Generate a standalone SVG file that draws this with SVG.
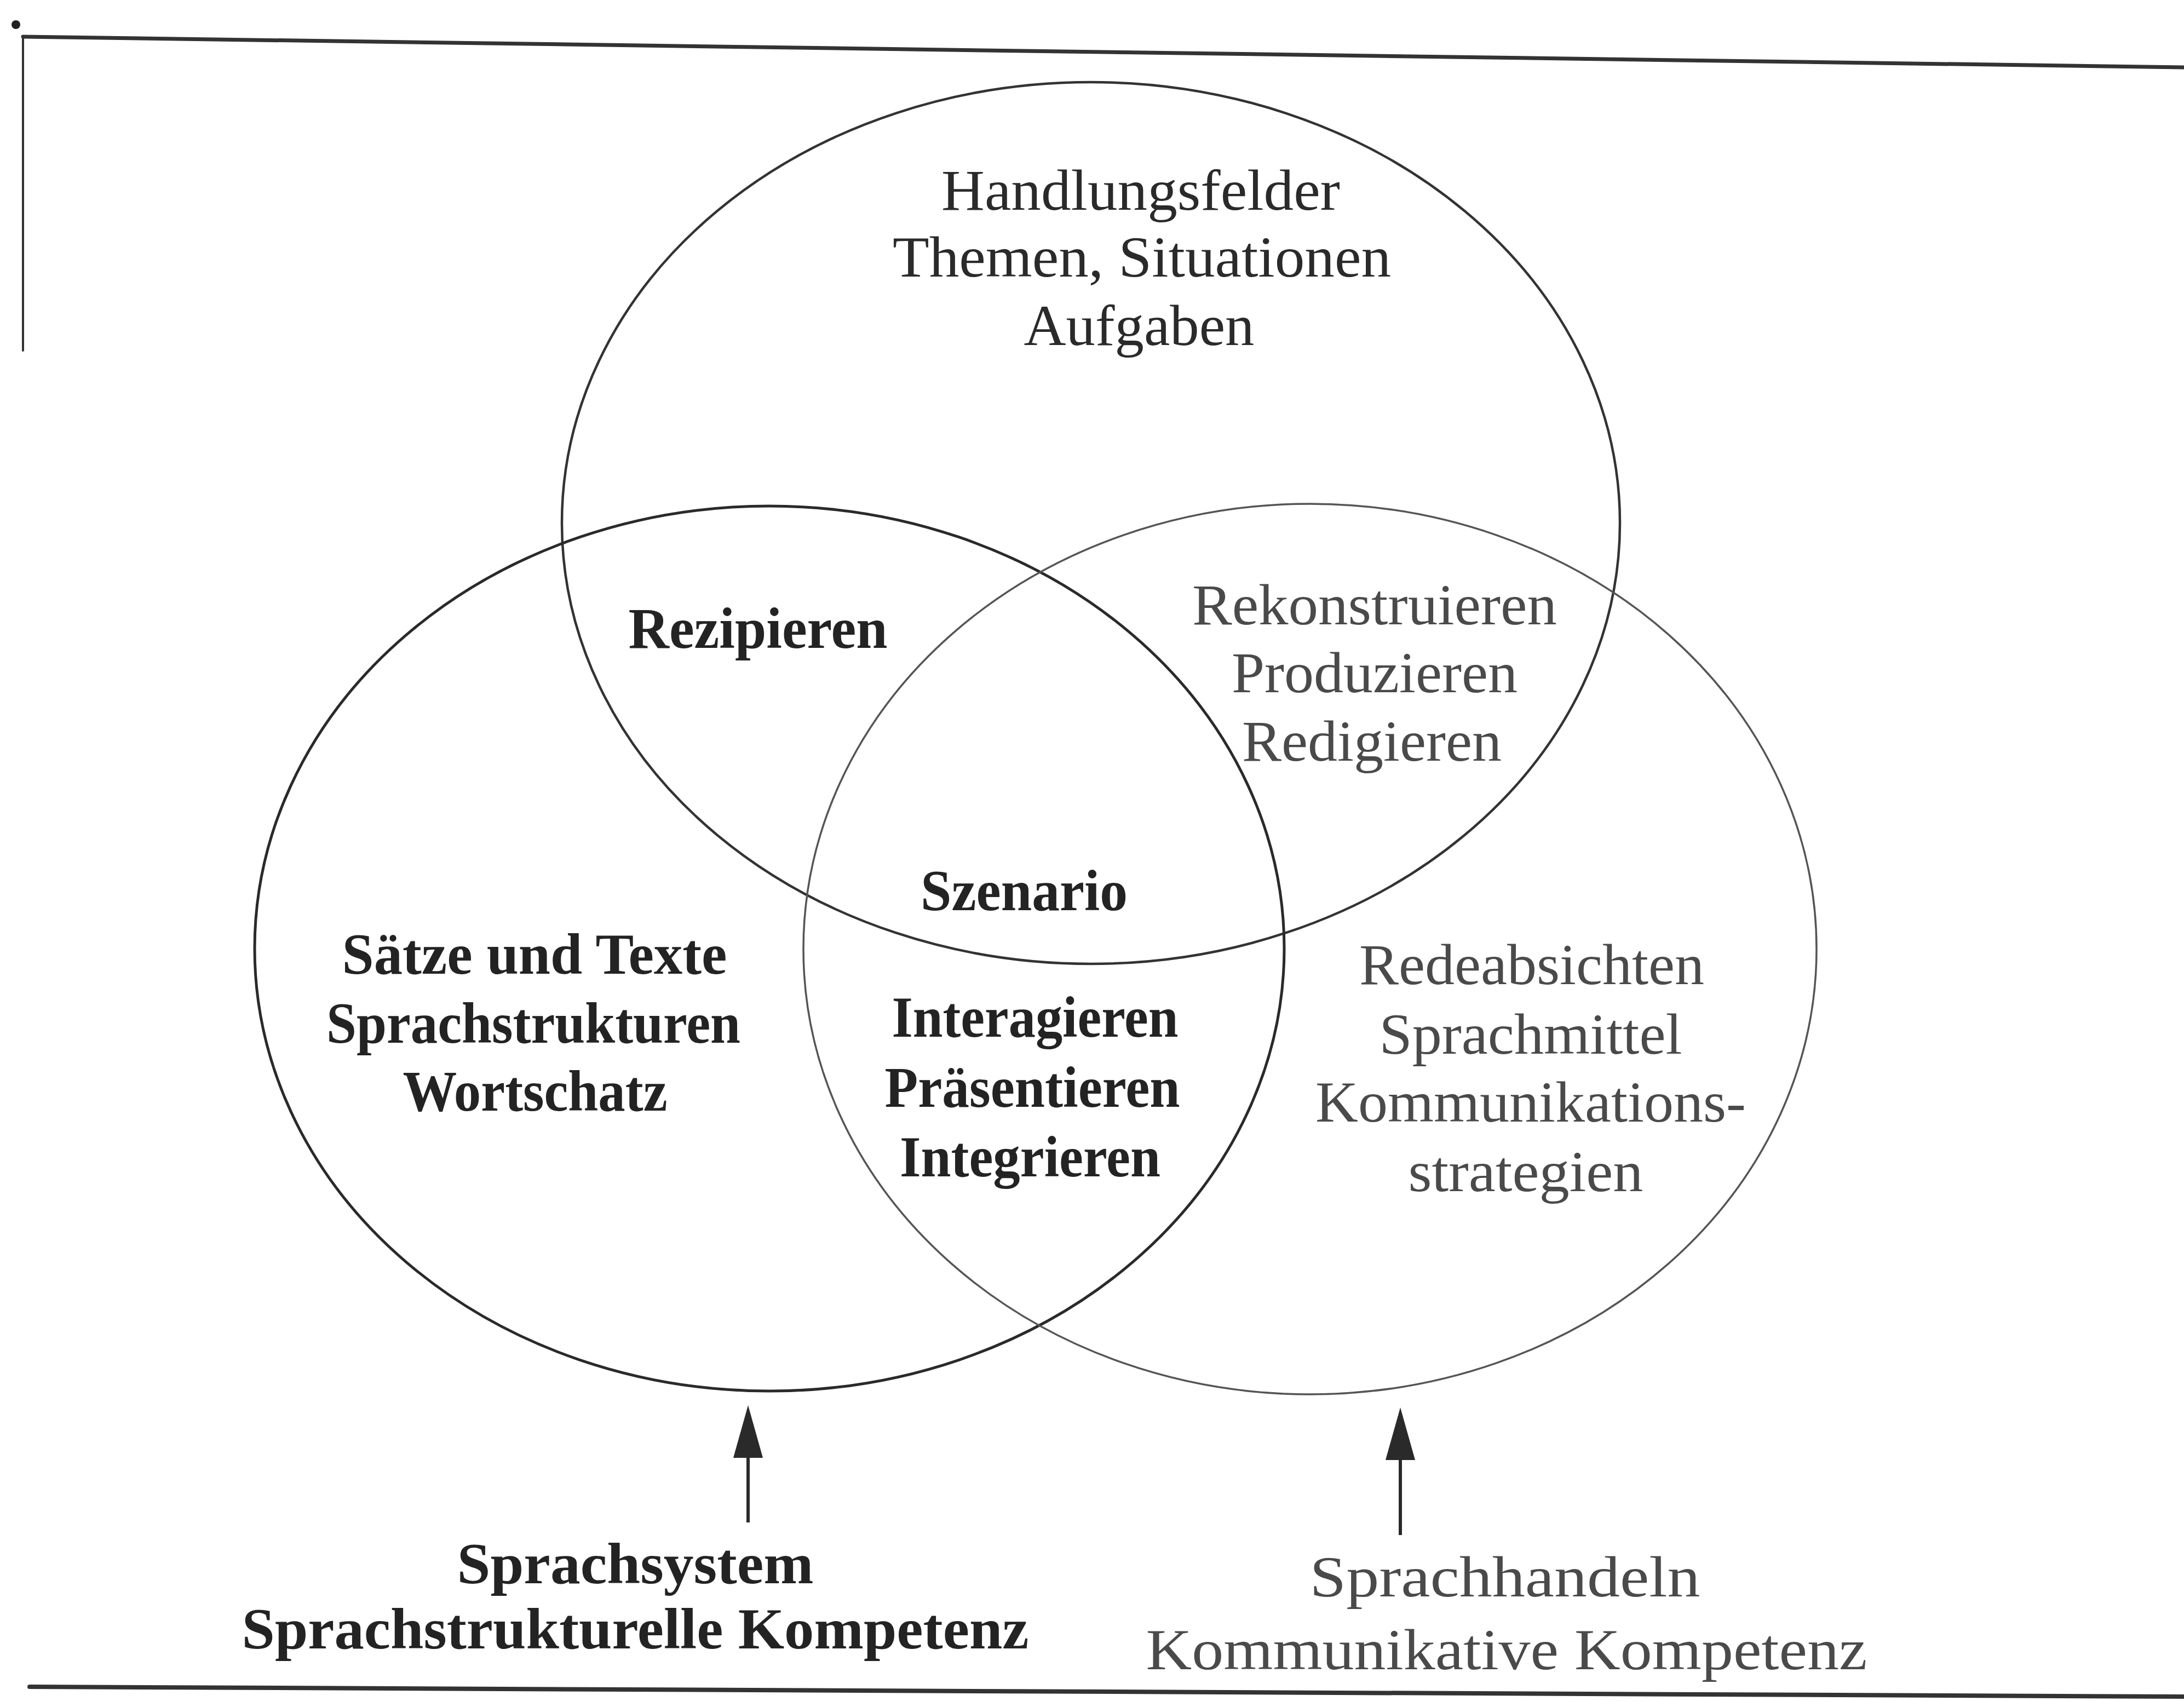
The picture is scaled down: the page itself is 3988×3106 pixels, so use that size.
<svg xmlns="http://www.w3.org/2000/svg" width="3988" height="3106" viewBox="0 0 3988 3106">
<style>
.t{font-family:"Liberation Serif","Times New Roman",serif;font-size:106px;text-anchor:middle}
.b{font-weight:bold;fill:#232323}
.r{fill:#2a2a2a}
.l{fill:#4a4a4a}
.frame{stroke:#333;fill:none;stroke-linecap:round}
.ring{fill:none}
.arrow{stroke:#2a2a2a;stroke-width:6;fill:none;marker-end:url(#ah)}
</style>
<defs>
<marker id="ah" viewBox="0 0 96 54" refX="10" refY="27" markerWidth="96" markerHeight="54" markerUnits="userSpaceOnUse" orient="auto">
<path d="M0,0 L96,27 L0,54 z" fill="#2a2a2a"/>
</marker>
</defs>
<rect width="3988" height="3106" fill="#ffffff"/>
<g id="frame">
<circle cx="29" cy="45" r="8" fill="#222"/>
<line class="frame" x1="42" y1="67" x2="3988" y2="123" stroke-width="7"/>
<line class="frame" x1="42" y1="67" x2="42" y2="640" stroke-width="4" stroke="#666"/>
<line class="frame" x1="54" y1="3080" x2="3988" y2="3098" stroke-width="8"/>
</g>
<g id="circle-top">
<ellipse class="ring" cx="1992" cy="955" rx="966" ry="805" stroke="#333" stroke-width="4.5"/>
</g>
<g id="circle-left">
<ellipse class="ring" cx="1405" cy="1732" rx="940" ry="808" stroke="#2a2a2a" stroke-width="5"/>
</g>
<g id="circle-right">
<ellipse class="ring" cx="2392" cy="1733" rx="925" ry="813" stroke="#555" stroke-width="3.5"/>
</g>
<g id="connectors">
<line class="arrow" x1="1366" y1="2780" x2="1366" y2="2652"/>
<line class="arrow" x1="2557" y1="2803" x2="2557" y2="2656"/>
</g>
<g id="label-top">
<text class="t r" x="2083" y="383" textLength="728" lengthAdjust="spacingAndGlyphs">Handlungsfelder</text>
<text class="t r" x="2085" y="505" textLength="910" lengthAdjust="spacingAndGlyphs">Themen, Situationen</text>
<text class="t r" x="2080" y="630" textLength="421" lengthAdjust="spacingAndGlyphs">Aufgaben</text>
</g>
<g id="label-rezipieren">
<text class="t b" x="1384" y="1183" textLength="473" lengthAdjust="spacingAndGlyphs">Rezipieren</text>
</g>
<g id="label-top-right">
<text class="t l" x="2510" y="1140" textLength="666" lengthAdjust="spacingAndGlyphs">Rekonstruieren</text>
<text class="t l" x="2510" y="1264" textLength="522" lengthAdjust="spacingAndGlyphs">Produzieren</text>
<text class="t l" x="2505" y="1389" textLength="474" lengthAdjust="spacingAndGlyphs">Redigieren</text>
</g>
<g id="label-szenario">
<text class="t b" x="1870" y="1662" textLength="378" lengthAdjust="spacingAndGlyphs">Szenario</text>
</g>
<g id="label-left">
<text class="t b" x="976" y="1778" textLength="703" lengthAdjust="spacingAndGlyphs">Sätze und Texte</text>
<text class="t b" x="974" y="1904" textLength="756" lengthAdjust="spacingAndGlyphs">Sprachstrukturen</text>
<text class="t b" x="977" y="2028" textLength="483" lengthAdjust="spacingAndGlyphs">Wortschatz</text>
</g>
<g id="label-bottom-center">
<text class="t b" x="1890" y="1893" textLength="523" lengthAdjust="spacingAndGlyphs">Interagieren</text>
<text class="t b" x="1885" y="2021" textLength="539" lengthAdjust="spacingAndGlyphs">Präsentieren</text>
<text class="t b" x="1881" y="2148" textLength="476" lengthAdjust="spacingAndGlyphs">Integrieren</text>
</g>
<g id="label-right">
<text class="t l" x="2797" y="1797" textLength="630" lengthAdjust="spacingAndGlyphs">Redeabsichten</text>
<text class="t l" x="2795" y="1924" textLength="553" lengthAdjust="spacingAndGlyphs">Sprachmittel</text>
<text class="t l" x="2795" y="2048" textLength="786" lengthAdjust="spacingAndGlyphs">Kommunikations-</text>
<text class="t l" x="2786" y="2175" textLength="429" lengthAdjust="spacingAndGlyphs">strategien</text>
</g>
<g id="caption-left">
<text class="t b" x="1160" y="2891" textLength="651" lengthAdjust="spacingAndGlyphs">Sprachsystem</text>
<text class="t b" x="1160" y="3010" textLength="1437" lengthAdjust="spacingAndGlyphs">Sprachstrukturelle Kompetenz</text>
</g>
<g id="caption-right">
<text class="t l" x="2748" y="2915" textLength="713" lengthAdjust="spacingAndGlyphs">Sprachhandeln</text>
<text class="t l" x="2751" y="3048" textLength="1317" lengthAdjust="spacingAndGlyphs">Kommunikative Kompetenz</text>
</g>
</svg>
